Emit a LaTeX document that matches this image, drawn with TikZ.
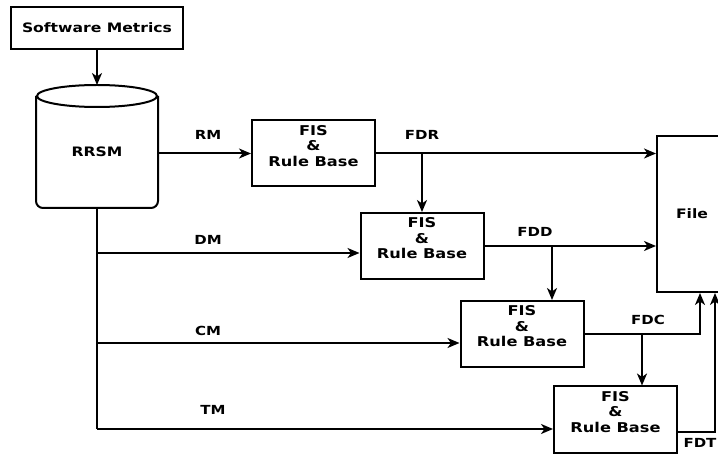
\documentclass[tikz,border=0pt]{standalone}
\usepackage{fontspec}
\newfontfamily\diagfont{DejaVu Sans}[FakeStretch=1.2]
\usetikzlibrary{arrows.meta,calc}

\begin{document}
\begin{tikzpicture}[x=1pt,y=-1pt,line width=2pt,
  >={Stealth[length=12pt,width=10pt,inset=3.5pt]},
  box/.style={draw,rectangle,inner sep=0pt},
  fisbox/.style={box,minimum width=123pt,minimum height=66pt,align=center,text depth=16pt,
    font=\diagfont\bfseries\fontsize{13.5}{15.5}\selectfont},
  lbl/.style={font=\diagfont\bfseries\fontsize{12.5}{14}\selectfont}]
  \useasboundingbox (0,0) rectangle (718,454);
  \clip (0,0) rectangle (718,454);

  \node[box,minimum width=172pt,minimum height=42pt,font=\diagfont\bfseries\fontsize{13}{15}\selectfont] (SM) at (97,28) {Software Metrics};

  % repository
  \node[inner sep=0pt,minimum width=120pt,minimum height=110pt,font=\diagfont\bfseries\fontsize{13}{15}\selectfont] (RRSM) at (97,152) {RRSM};
  \draw (RRSM.north) ellipse [x radius=60pt,y radius=11pt];
  \draw[rounded corners=7pt] (RRSM.north west) -- (RRSM.south west) -- (RRSM.south east) -- (RRSM.north east);

  \node[fisbox] (FISa) at (313.5,153.5) {FIS\\\&\\Rule Base};
  \node[fisbox] (FISb) at (422,246) {FIS\\\&\\Rule Base};
  \node[fisbox] (FISc) at (522,334) {FIS\\\&\\Rule Base};
  \node[fisbox] (FISd) at (615.5,419.5) {FIS\\\&\\Rule Base};
  \node[box,minimum width=70pt,minimum height=156pt,font=\diagfont\bfseries\fontsize{13}{15}\selectfont] (FILE) at (692,214) {File};

  \coordinate (DMa) at (97,253);
  \coordinate (CMa) at (97,343);
  \coordinate (TMa) at (97,429);
  \coordinate (FDDb) at (552,246);
  \coordinate (FDCb) at (642,334);

  \draw[->] (SM.south) -- ([yshift=11pt]RRSM.north);
  \draw (RRSM.south) -- (TMa);
  \draw[->] (RRSM.east |- FISa.west) -- (FISa.west);
  \draw[->] (DMa) -- (DMa -| FISb.west);
  \draw[->] (CMa) -- (CMa -| FISc.west);
  \draw[->] (TMa) -- (TMa -| FISd.west);

  \draw[->] (FISa.east) -- (FISa.east -| FILE.west);
  \draw[->] (FISb.north |- FISa.east) -- (FISb.north);
  \draw[->] (FISb.east) -- (FISb.east -| FILE.west);
  \draw[->] (FDDb) -- (FDDb |- FISc.north);
  \draw[->] (FISc.east) -| ([xshift=8pt]FILE.south);
  \draw[->] (FDCb) -- (FDCb |- FISd.north);
  \draw[->] ([yshift=-12pt]FISd.east) -| ([xshift=23pt]FILE.south);

  \node[lbl] (lRM) at (208,135) {RM};
  \node[lbl] (lDM) at (208,240) {DM};
  \node[lbl] (lCM) at (208,331) {CM};
  \node[lbl] (lTM) at (213,410) {TM};
  \node[lbl] (lFDR) at (422,135) {FDR};
  \node[lbl] (lFDD) at (535,232) {FDD};
  \node[lbl] (lFDC) at (648,320) {FDC};
  \node[lbl] (lFDT) at (700,443) {FDT};
\end{tikzpicture}
\end{document}
